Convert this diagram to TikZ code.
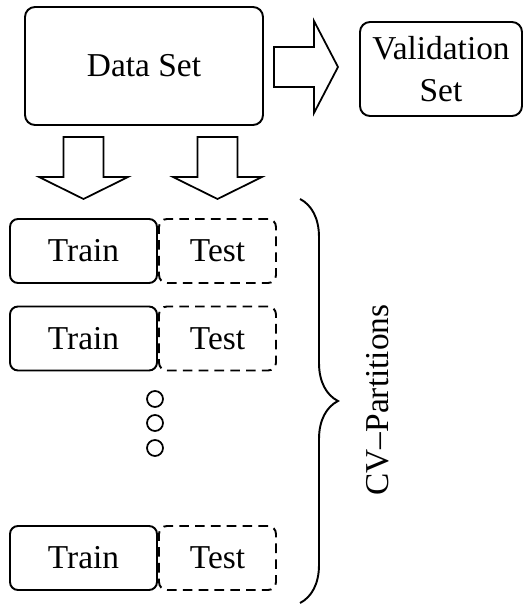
\documentclass[tikz,border=0pt]{standalone}
\usepackage{fontspec}
\setmainfont{Liberation Serif}
\usetikzlibrary{decorations.pathreplacing}

\begin{document}
\begin{tikzpicture}[every node/.style={font=\fontsize{19}{25}\selectfont},
  box/.style={draw, line width=1.1pt, rounded corners=0.2cm},
  trainbox/.style={box, rounded corners=0.16cm, minimum width=2.94cm, minimum height=1.28cm},
  testbox/.style={trainbox, minimum width=2.34cm, dash pattern=on 5.5pt off 3.5pt},
  blockarrow/.style={line width=1pt, line join=miter}]
  \useasboundingbox (0,0) rectangle (10.5,12.12);
  \node[box, minimum width=4.76cm, minimum height=2.36cm] (data) at (2.88,10.8) {Data Set};
  \node[box, minimum width=3.24cm, minimum height=1.88cm, align=center] (valid) at (8.82,10.74) {Validation\\[-1pt]Set};
  % hollow arrow towards the validation set
  \draw[blockarrow] (5.48,11.18) -- (6.28,11.18) -- (6.28,11.70) -- (6.76,10.78) -- (6.28,9.86) -- (6.28,10.38) -- (5.48,10.38) -- cycle;
  % hollow arrows down to both columns
  \foreach \c in {1.67,4.35}
    \draw[blockarrow] (\c-0.4,9.38) -- (\c+0.4,9.38) -- (\c+0.4,8.58) -- (\c+0.89,8.58) -- (\c,8.14) -- (\c-0.89,8.58) -- (\c-0.4,8.58) -- cycle;
  % partitions
  \foreach \y/\n in {7.1/1, 5.35/2, 0.96/3} {
    \node[trainbox] (train\n) at (1.67,\y) {Train};
    \node[testbox] (test\n) at (4.35,\y) {Test};
  }
  \foreach \y in {4.14,3.66,3.16}
    \draw[line width=1pt] (3.1,\y) circle (0.16);
  \draw[line width=1.1pt, decorate, decoration={brace, amplitude=0.76cm}] (6.0,8.14) -- (6.0,0.06);
  \node[rotate=90] (cv) at (7.56,4.12) {CV--Partitions};
\end{tikzpicture}
\end{document}
